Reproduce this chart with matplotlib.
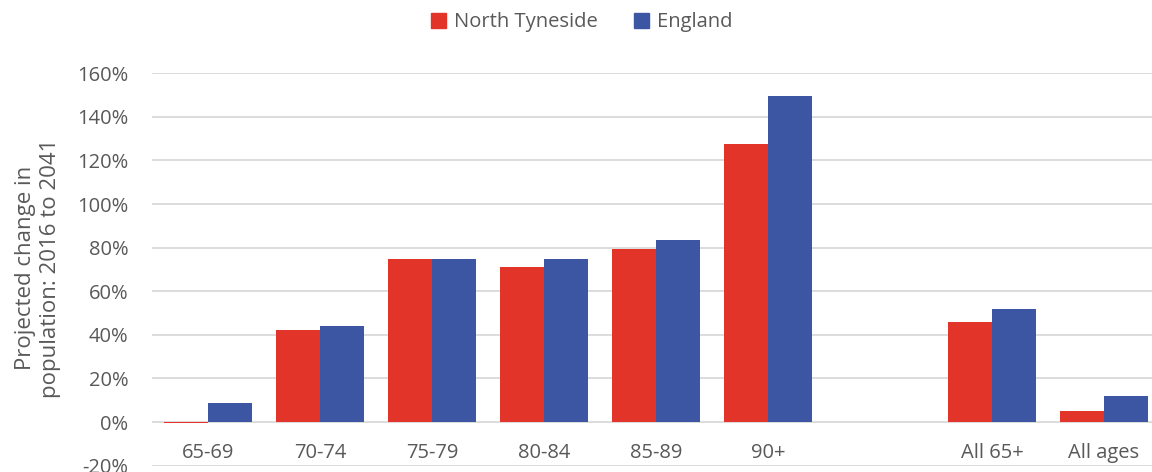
import numpy as np
import matplotlib
matplotlib.use('Agg')
import matplotlib.pyplot as plt
from matplotlib.patches import Patch

plt.rcParams['font.family'] = ['Open Sans', 'DejaVu Sans']

categories = ['65-69', '70-74', '75-79', '80-84', '85-89', '90+', '', 'All 65+', 'All ages']
north_tyneside = [-0.5, 42.2, 75.0, 71.2, 79.4, 127.5, np.nan, 45.7, 5.0]
england = [8.8, 44.0, 74.8, 74.9, 83.5, 149.6, np.nan, 51.7, 12.0]
yticks = [-20, 0, 20, 40, 60, 80, 100, 120, 140, 160]

red = '#e3342a'
blue = '#3c56a3'
grey_text = '#595959'
grid_col = '#d9d9d9'

fig = plt.figure(figsize=(11.52, 4.72), dpi=100)
ax = fig.add_axes([152 / 1152, 1 - 465.6 / 472, 1008 / 1152, (465.6 - 73.3) / 472])

x = np.arange(len(categories))
w = 0.395
ax.bar(x - w / 2, north_tyneside, w, color=red, zorder=3)
ax.bar(x + w / 2, england, w, color=blue, zorder=3)

ax.set_xlim(-0.5, len(categories) - 0.5)
ax.set_ylim(-20, 160)
ax.set_yticks(yticks)
ax.set_yticklabels([f'{v}%' for v in yticks])
ax.yaxis.grid(True, color=grid_col, lw=1.3, zorder=0)
ax.set_axisbelow(True)
ax.tick_params(axis='y', length=0, pad=17, labelsize=14.5, labelcolor=grey_text)
ax.set_xticks([])
for s in ax.spines.values():
    s.set_visible(False)

for xi, lab in zip(x, categories):
    ax.text(xi, -14, lab, ha='center', va='center', fontsize=14.5, color=grey_text)

fig.text(0.033, 0.432, 'Projected change in\npopulation: 2016 to 2041',
         rotation=90, ha='center', va='center', fontsize=16, color=grey_text,
         linespacing=1.25)

handles = [Patch(color=red, label='North Tyneside'), Patch(color=blue, label='England')]
fig.legend(handles=handles, loc='center', bbox_to_anchor=(0.505, 0.953), ncol=2,
           frameon=False, fontsize=14.5, labelcolor=grey_text, handlelength=0.75,
           handleheight=0.75, handletextpad=0.4, columnspacing=1.8)

fig.savefig('out.png', dpi=100)
